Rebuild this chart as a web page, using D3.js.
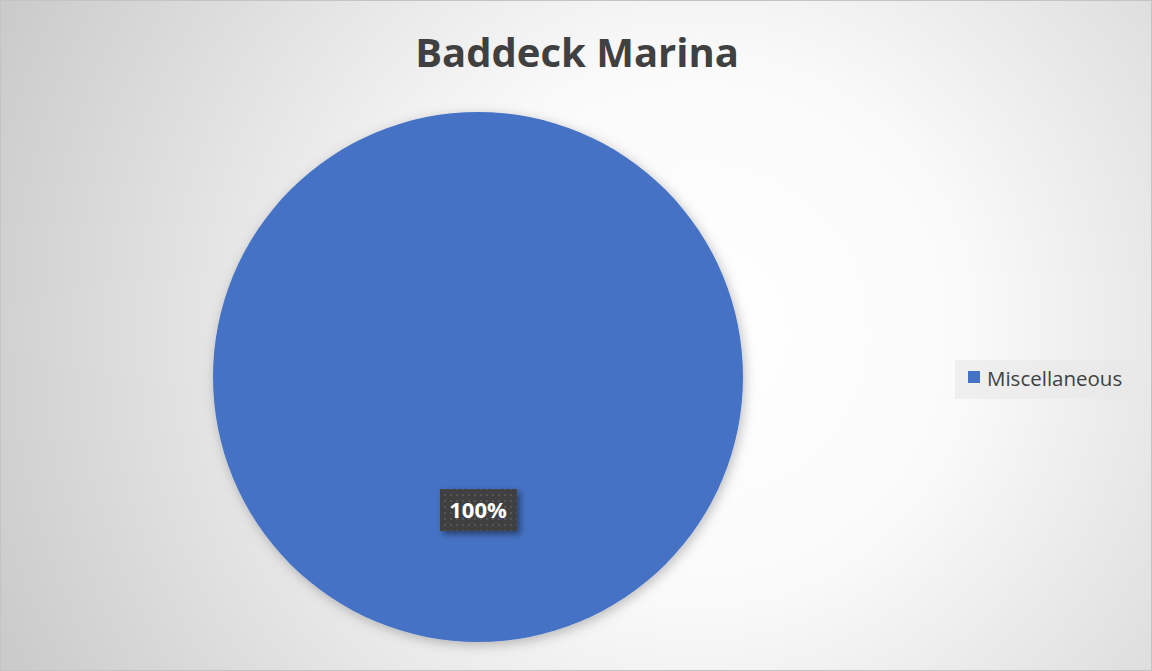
<!DOCTYPE html>
<html><head><meta charset="utf-8">
<script src="https://cdn.jsdelivr.net/npm/d3@7"></script>
<style>html,body{margin:0;padding:0;overflow:hidden;}</style>
</head><body>
<script>
const categories = ["Miscellaneous"];
const values = [100];
const colors = ["#4472C4"];
const title = "Baddeck Marina";

const W = 1152, H = 671;
const svg = d3.select("body").append("svg").attr("width", W).attr("height", H);
const defs = svg.append("defs");
const bg = defs.append("radialGradient").attr("id","bg").attr("gradientUnits","userSpaceOnUse")
  .attr("cx",700).attr("cy",330).attr("r",760);
bg.append("stop").attr("offset","0").attr("stop-color","#ffffff");
bg.append("stop").attr("offset","0.35").attr("stop-color","#fafafa");
bg.append("stop").attr("offset","1").attr("stop-color","#cbcbcb");
svg.append("rect").attr("width",W).attr("height",H).attr("fill","url(#bg)");
svg.append("rect").attr("x",0.5).attr("y",0.5).attr("width",W-1).attr("height",H-1).attr("fill","none").attr("stroke","#c4c4c4");

const shadow = defs.append("filter").attr("id","sh").attr("x","-20%").attr("y","-20%").attr("width","140%").attr("height","140%");
shadow.append("feDropShadow").attr("dx",2).attr("dy",3).attr("stdDeviation",6).attr("flood-color","#000").attr("flood-opacity",0.25);
const shadow2 = defs.append("filter").attr("id","sh2").attr("x","-30%").attr("y","-30%").attr("width","160%").attr("height","160%");
shadow2.append("feDropShadow").attr("dx",3).attr("dy",3).attr("stdDeviation",3).attr("flood-color","#000").attr("flood-opacity",0.45);
const pat = defs.append("pattern").attr("id","dots").attr("patternUnits","userSpaceOnUse").attr("width",6).attr("height",6);
pat.append("rect").attr("width",6).attr("height",6).attr("fill","#404040");
pat.append("rect").attr("x",2).attr("y",2).attr("width",2).attr("height",2).attr("fill","#555555");

svg.append("text").attr("x",577).attr("y",67).attr("text-anchor","middle")
  .attr("font-family","'Open Sans', sans-serif").attr("font-weight","bold").attr("font-size",40)
  .attr("fill","#404040").text(title);

const cx = 478, cy = 377, r = 265;
const pie = d3.pie().sort(null).value(d => d)(values);
const arc = d3.arc().innerRadius(0).outerRadius(r);
const g = svg.append("g").attr("transform",`translate(${cx},${cy})`);
g.selectAll("path").data(pie).join("path").attr("d",arc).attr("fill",(d,i)=>colors[i]).attr("filter","url(#sh)");

const total = d3.sum(values);
pie.forEach((d,i)=>{
  const lx = 478 - cx, ly = 510 - cy;
  const lg = g.append("g").attr("transform",`translate(${lx},${ly})`);
  lg.append("rect").attr("x",-38).attr("y",-21).attr("width",77).attr("height",42).attr("fill","url(#dots)").attr("filter","url(#sh2)");
  lg.append("text").attr("text-anchor","middle").attr("dy","0.36em")
    .attr("font-family","'Open Sans', sans-serif").attr("font-weight","bold").attr("font-size",22)
    .attr("fill","#ffffff").text(d3.format(".0%")(d.value/total));
});

const leg = svg.append("g");
leg.append("rect").attr("x",955).attr("y",360).attr("width",182).attr("height",39).attr("fill","#e8e8e8").attr("opacity",0.6);
categories.forEach((c,i)=>{
  leg.append("rect").attr("x",968).attr("y",371).attr("width",12).attr("height",12).attr("fill",colors[i]);
  leg.append("text").attr("x",987).attr("y",385.5)
    .attr("font-family","'Open Sans', sans-serif").attr("font-size",20.5).attr("fill","#404040").text(c);
});
</script>
</body></html>
